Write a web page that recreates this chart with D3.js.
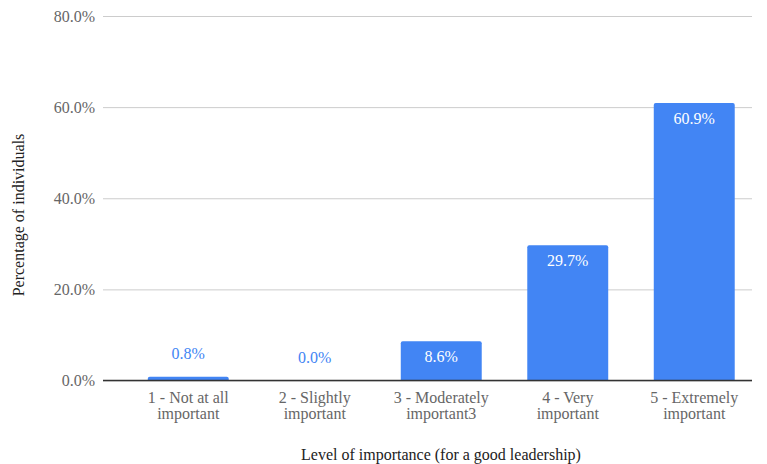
<!DOCTYPE html>
<html>
<head>
<meta charset="utf-8">
<script src="https://cdn.jsdelivr.net/npm/d3@7"></script>
<style>
  html, body { margin: 0; padding: 0; background: #fff; }
  svg { display: block; font-family: "Liberation Serif", "Times New Roman", serif; }
</style>
</head>
<body>
<svg id="chart" width="767" height="464"></svg>
<script>
// Survey results: share of respondents per importance level
const categories = [
  ["1 - Not at all", "important"],
  ["2 - Slightly", "important"],
  ["3 - Moderately", "important3"],
  ["4 - Very", "important"],
  ["5 - Extremely", "important"]
];
const values = [0.8, 0.0, 8.6, 29.7, 60.9];
const yTicks = [0, 20, 40, 60, 80];
const xTitle = "Level of importance (for a good leadership)";
const yTitle = "Percentage of individuals";

const svg = d3.select("#chart");
const barColor = "#4285f4";
const fontSize = "16px";

const keys = categories.map(c => c.join(" "));
const x = d3.scaleBand().domain(keys).range([125, 757.5])
  .paddingInner(0.36).paddingOuter(0.18);
const y = d3.scaleLinear().domain([0, 80]).range([380.5, 16]);

// gridlines + y tick labels
const yAxis = d3.axisLeft(y).tickValues(yTicks)
  .tickSize(-(752 - 103)).tickPadding(8)
  .tickFormat(d => d.toFixed(1) + "%");
const gy = svg.append("g").attr("transform", "translate(103,0)").call(yAxis);
gy.select(".domain").remove();
gy.selectAll(".tick line").attr("stroke", "#cccccc").attr("stroke-width", 1);
gy.selectAll(".tick text").attr("fill", "#666").style("font-size", fontSize)
  .style("font-family", "Liberation Serif, serif");

// bars with slightly rounded top corners
const r = 2;
function barPath(x0, w, yTop, yBase) {
  const h = yBase - yTop;
  if (h <= 0) return "";
  const rr = Math.min(r, h);
  return `M${x0},${yBase}V${yTop + rr}Q${x0},${yTop} ${x0 + rr},${yTop}` +
         `H${x0 + w - rr}Q${x0 + w},${yTop} ${x0 + w},${yTop + rr}V${yBase}Z`;
}
svg.append("g").selectAll("path")
  .data(values)
  .join("path")
  .attr("d", (v, i) => barPath(x(keys[i]), x.bandwidth(), y(v), y(0)))
  .attr("fill", barColor);

// baseline
svg.append("line")
  .attr("x1", 103).attr("x2", 752)
  .attr("y1", y(0)).attr("y2", y(0))
  .attr("stroke", "#333").attr("stroke-width", 1.3);

// value labels: inside tall bars, above short ones
const inside = v => (y(0) - y(v)) > 25;
svg.append("g").selectAll("text")
  .data(values)
  .join("text")
  .attr("x", (v, i) => x(keys[i]) + x.bandwidth() / 2)
  .attr("y", v => inside(v) ? y(v) + 21 : y(v) - 18)
  .attr("text-anchor", "middle")
  .attr("fill", v => inside(v) ? "#fff" : barColor)
  .style("font-size", fontSize)
  .text(v => v.toFixed(1) + "%");

// category labels, one text element per line
const lineGroups = svg.append("g").selectAll("g")
  .data(categories)
  .join("g")
  .attr("transform", (c, i) => `translate(${x(keys[i]) + x.bandwidth() / 2},0)`);
lineGroups.selectAll("text")
  .data(c => c)
  .join("text")
  .attr("x", 0)
  .attr("y", (d, j) => 403 + j * 16)
  .attr("text-anchor", "middle")
  .attr("fill", "#666")
  .style("font-size", fontSize)
  .text(d => d);

// axis titles
svg.append("text")
  .attr("x", 441).attr("y", 460)
  .attr("text-anchor", "middle")
  .attr("fill", "#222")
  .style("font-size", fontSize)
  .text(xTitle);

svg.append("text")
  .attr("transform", "translate(24,215) rotate(-90)")
  .attr("text-anchor", "middle")
  .attr("fill", "#222")
  .style("font-size", fontSize)
  .text(yTitle);
</script>
</body>
</html>
